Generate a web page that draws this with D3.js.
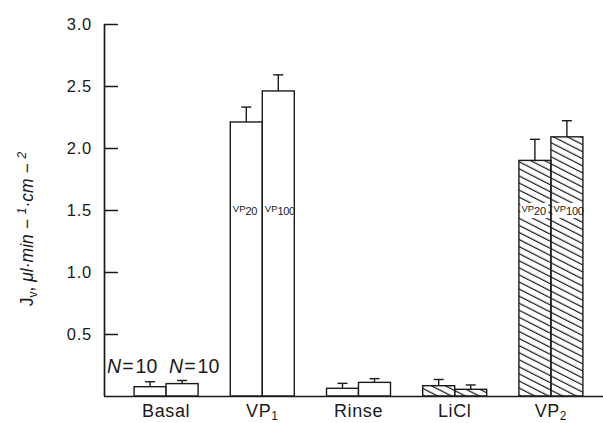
<!DOCTYPE html>
<html>
<head>
<meta charset="utf-8">
<script src="https://cdn.jsdelivr.net/npm/d3@7"></script>
<style>
  html, body { margin: 0; padding: 0; background: #fff; }
  svg { display: block; font-family: "Liberation Sans", Arial, sans-serif; }
</style>
</head>
<body>
<svg id="chart" width="603" height="423"></svg>
<script>
// ---- data ----
const categories = ["Basal", "VP1", "Rinse", "LiCl", "VP2"];
const categorySubs = ["", "1", "", "", "2"];
const series = ["VP20", "VP100"];
const valuesVP20 = [0.075, 2.21, 0.062, 0.083, 1.90];
const valuesVP100 = [0.10, 2.46, 0.11, 0.054, 2.09];
const errorsVP20 = [0.04, 0.12, 0.04, 0.05, 0.17];
const errorsVP100 = [0.025, 0.13, 0.03, 0.035, 0.13];
const hatched = [false, false, false, true, true];
const yTicks = [0.5, 1.0, 1.5, 2.0, 2.5, 3.0];
const nLabels = ["10", "10"];

// ---- layout ----
const svg = d3.select("#chart");
const ink = "#1a1a1a";
const axisX = 104, baseY = 396, topY = 24;

const y = d3.scaleLinear().domain([0, 3]).range([baseY, topY]);
const xc = d3.scalePoint().domain(categories).range([118, 599]).padding(0.5);
const xs = d3.scaleBand().domain(series).range([-32, 32]).padding(0);

// hatch pattern
const defs = svg.append("defs");
defs.append("pattern")
  .attr("id", "hatch")
  .attr("patternUnits", "userSpaceOnUse")
  .attr("width", 20).attr("height", 6.3)
  .attr("patternTransform", "rotate(27)")
  .append("line")
  .attr("x1", 0).attr("x2", 20).attr("y1", 3).attr("y2", 3)
  .attr("stroke", ink).attr("stroke-width", 1.2);

// build bar records
const bars = [];
categories.forEach((c, i) => {
  bars.push({ cat: c, s: "VP20", v: valuesVP20[i], e: errorsVP20[i], h: hatched[i], i });
  bars.push({ cat: c, s: "VP100", v: valuesVP100[i], e: errorsVP100[i], h: hatched[i], i });
});

const g = svg.append("g");

// bars
g.selectAll("rect.bar").data(bars).join("rect")
  .attr("class", "bar")
  .attr("x", d => xc(d.cat) + xs(d.s))
  .attr("y", d => y(d.v))
  .attr("width", xs.bandwidth())
  .attr("height", d => y(0) - y(d.v))
  .attr("fill", d => d.h ? "url(#hatch)" : "#fff")
  .attr("stroke", ink)
  .attr("stroke-width", 1.4);

// error bars
const eb = g.selectAll("g.err").data(bars).join("g").attr("class", "err");
eb.append("line")
  .attr("x1", d => xc(d.cat) + xs(d.s) + xs.bandwidth() / 2)
  .attr("x2", d => xc(d.cat) + xs(d.s) + xs.bandwidth() / 2)
  .attr("y1", d => y(d.v))
  .attr("y2", d => y(d.v + d.e))
  .attr("stroke", ink).attr("stroke-width", 1.4);
eb.append("line")
  .attr("x1", d => xc(d.cat) + xs(d.s) + xs.bandwidth() / 2 - 5)
  .attr("x2", d => xc(d.cat) + xs(d.s) + xs.bandwidth() / 2 + 5)
  .attr("y1", d => y(d.v + d.e))
  .attr("y2", d => y(d.v + d.e))
  .attr("stroke", ink).attr("stroke-width", 1.4);

// VP labels inside big bars
const labelBars = bars.filter(d => d.v > 1);
const lab = g.selectAll("g.vplab").data(labelBars).join("g").attr("class", "vplab")
  .attr("transform", d => `translate(${xc(d.cat) + xs(d.s) + 1.5},212)`);
lab.append("rect")
  .attr("x", 0).attr("y", -9)
  .attr("width", d => d.s === "VP20" ? 28 : 29.5)
  .attr("height", 15)
  .attr("fill", "#fff");
const lt = lab.append("text")
  .attr("fill", ink).attr("font-size", 9.5).attr("x", 1).attr("y", 0);
lt.append("tspan").text("VP");
lt.append("tspan").attr("dy", 3).attr("font-size", 11).attr("letter-spacing", -0.3).text(d => d.s.slice(2));

// y axis
const yAxis = d3.axisLeft(y).tickValues(yTicks)
  .tickFormat(d3.format(".1f"))
  .tickSizeInner(-14).tickSizeOuter(0).tickPadding(12);
const ya = svg.append("g").attr("transform", `translate(${axisX},0)`).call(yAxis);
ya.select(".domain").attr("stroke", ink).attr("stroke-width", 1.7)
  .attr("d", `M0.5,${baseY}V${topY}`);
ya.selectAll(".tick line").attr("stroke", ink).attr("stroke-width", 1.5);
ya.selectAll(".tick text").attr("fill", ink).attr("font-size", 16.5)
  .attr("font-family", "\"Liberation Sans\", Arial, sans-serif").attr("letter-spacing", 0.8);

// x baseline
svg.append("line")
  .attr("x1", axisX).attr("x2", 603)
  .attr("y1", baseY + 0.5).attr("y2", baseY + 0.5)
  .attr("stroke", ink).attr("stroke-width", 1.7);

// category labels
const cl = svg.selectAll("text.cat").data(categories).join("text")
  .attr("class", "cat")
  .attr("x", d => xc(d))
  .attr("y", 417)
  .attr("text-anchor", "middle")
  .attr("font-size", 18)
  .attr("letter-spacing", 0.6)
  .attr("fill", ink);
cl.append("tspan").text((d, i) => categorySubs[i] ? d.slice(0, -1) : d);
cl.append("tspan").attr("dy", 3).attr("font-size", 12)
  .text((d, i) => categorySubs[i]);

// N = 10 labels
const basalBars = bars.filter(d => d.cat === "Basal");
const nl = svg.selectAll("text.nlab").data(basalBars).join("text")
  .attr("class", "nlab")
  .attr("x", (d, i) => xc(d.cat) + xs(d.s) + (i === 0 ? -27 : 3))
  .attr("y", 373)
  .attr("font-size", 19.5)
  .attr("fill", ink);
nl.append("tspan").attr("font-style", "italic").text("N");
nl.append("tspan").attr("dx", 1).text("=");
nl.append("tspan").attr("dx", 2).text((d, i) => nLabels[i]);

// y title
const yt = svg.append("text")
  .attr("transform", "translate(33,229) rotate(-90)")
  .attr("text-anchor", "middle")
  .attr("font-size", 17.5)
  .attr("fill", ink);
yt.append("tspan").text("J");
yt.append("tspan").attr("dy", 4).attr("font-size", 12).text("v");
yt.append("tspan").attr("dy", -4).text(", ");
yt.append("tspan").attr("font-style", "italic").text("μl·min");
yt.append("tspan").attr("font-style", "italic").text(" − ");
yt.append("tspan").attr("dy", -7).attr("font-size", 12).attr("font-style", "italic").text("1");
yt.append("tspan").attr("dy", 7).attr("font-style", "italic").text("·cm");
yt.append("tspan").attr("font-style", "italic").text(" − ");
yt.append("tspan").attr("dy", -7).attr("font-size", 12).attr("font-style", "italic").text("2");
</script>
</body>
</html>
